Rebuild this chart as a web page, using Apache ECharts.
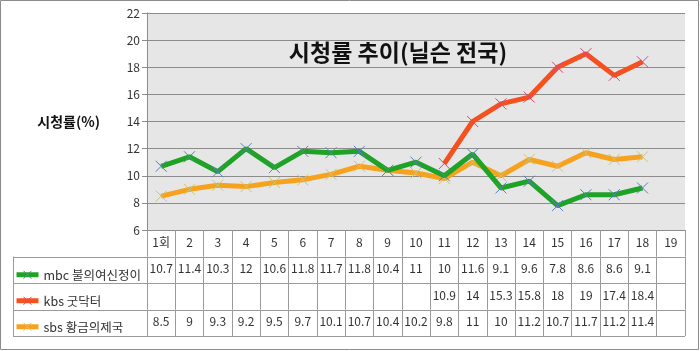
<!DOCTYPE html>
<html>
<head>
<meta charset="utf-8">
<script src="https://cdn.jsdelivr.net/npm/echarts@6/dist/echarts.min.js"></script>
<style>
  html, body { margin: 0; padding: 0; background: #fff; }
  #chart { width: 700px; height: 351px; }
</style>
</head>
<body>
<div id="chart"></div>
<script>
// 회차
var episodes = ["1회", "2", "3", "4", "5", "6", "7", "8", "9", "10",
  "11", "12", "13", "14", "15", "16", "17", "18", "19"];
var seriesNames = ["mbc 불의여신정이", "kbs 굿닥터", "sbs 황금의제국"];
var mbcData = [10.7, 11.4, 10.3, 12, 10.6, 11.8, 11.7, 11.8, 10.4, 11,
  10, 11.6, 9.1, 9.6, 7.8, 8.6, 8.6, 9.1, null];
var kbsData = [null, null, null, null, null, null, null, null, null, null,
  10.9, 14, 15.3, 15.8, 18, 19, 17.4, 18.4, null];
var sbsData = [8.5, 9, 9.3, 9.2, 9.5, 9.7, 10.1, 10.7, 10.4, 10.2,
  9.8, 11, 10, 11.2, 10.7, 11.7, 11.2, 11.4, null];
var yTicks = { min: 6, max: 22, step: 2 };

var lineColors = ["#1fa327", "#f4511e", "#f7a21e"];
var markColors = ["#5b7fb8", "#d8457a", "#c9c47a"];
var rows = [mbcData, kbsData, sbsData];

var font = "'Noto Sans CJK KR', sans-serif";
var gridL = 147, gridR = 15, gridT = 13, plotBottom = 230;
var rowH = 26.5, tableLeft = 13, tableRight = 700 - gridR;
var crossPath = "path://M0,0L10,10M0,10L10,0";

var chart = echarts.init(document.getElementById("chart"));

// x axes: header row + one axis per data row (table cells)
var xAxes = [];
for (var r = 0; r < 4; r++) {
  (function (r) {
    xAxes.push({
      type: "category",
      data: episodes,
      position: "bottom",
      offset: r * rowH,
      boundaryGap: true,
      axisLine: { show: r === 0, lineStyle: { color: "#8c8c8c", width: 1 } },
      axisTick: {
        show: true,
        interval: 0,
        alignWithLabel: false,
        length: rowH,
        lineStyle: { color: "#9a9a9a", width: 1 }
      },
      axisLabel: {
        interval: 0,
        margin: 6,
        color: "#333",
        fontFamily: font,
        fontSize: 12,
        formatter: function (v, i) {
          if (r === 0) return v;
          var val = rows[r - 1][i];
          return val == null ? "" : String(val);
        }
      },
      splitLine: { show: false }
    });
  })(r);
}

var series = rows.map(function (d, i) {
  return {
    name: seriesNames[i],
    type: "line",
    xAxisIndex: 0,
    data: d,
    symbol: crossPath,
    symbolSize: 11,
    showSymbol: true,
    connectNulls: false,
    lineStyle: { color: lineColors[i], width: 5 },
    itemStyle: { color: "transparent", borderColor: markColors[i], borderWidth: 1 },
    emphasis: { disabled: true },
    z: 3 - i
  };
});

// table borders left of the plot and row separators
var graphics = [{
  type: "rect",
  shape: { x: 0.5, y: 0.5, width: 698, height: 349 },
  style: { fill: "none", stroke: "#8c8c8c", lineWidth: 1 },
  silent: true
}];
for (var k = 1; k <= 4; k++) {
  var yy = Math.round(plotBottom + k * rowH) + 0.5;
  graphics.push({
    type: "line",
    shape: { x1: tableLeft, y1: yy, x2: tableRight, y2: yy },
    style: { stroke: "#9a9a9a", lineWidth: 1 },
    silent: true
  });
}
graphics.push({
  type: "line",
  shape: { x1: tableLeft + 0.5, y1: plotBottom + rowH, x2: tableLeft + 0.5, y2: plotBottom + 4 * rowH },
  style: { stroke: "#9a9a9a", lineWidth: 1 },
  silent: true
});

var option = {
  backgroundColor: "#fff",
  animation: false,
  title: {
    text: "시청률 추이(닐슨 전국)",
    left: 393,
    top: 36,
    textAlign: "center",
    textStyle: { fontFamily: font, fontSize: 23, fontWeight: "bold", color: "#111" }
  },
  legend: {
    orient: "vertical",
    left: tableLeft - 4,
    top: plotBottom + rowH + 7,
    itemWidth: 22,
    itemHeight: 10,
    itemGap: rowH - 10 - 3,
    data: seriesNames,
    selectedMode: false,
    lineStyle: { width: 5 },
    itemStyle: { borderWidth: 1 },
    textStyle: { fontFamily: font, fontSize: 12.5, color: "#333" }
  },
  grid: {
    left: gridL,
    right: gridR,
    top: gridT,
    bottom: 351 - plotBottom,
    show: true,
    backgroundColor: "#e6e6e6",
    borderWidth: 0,
    containLabel: false
  },
  xAxis: xAxes,
  yAxis: {
    type: "value",
    min: yTicks.min,
    max: yTicks.max,
    interval: yTicks.step,
    name: "시청률(%)",
    nameLocation: "middle",
    nameRotate: 0,
    nameGap: 47,
    nameTextStyle: { fontFamily: font, fontSize: 14, fontWeight: "bold", color: "#111", align: "right" },
    axisLine: { show: true, lineStyle: { color: "#8c8c8c" } },
    axisTick: { show: true, length: 5, lineStyle: { color: "#8c8c8c" } },
    axisLabel: { color: "#333", fontFamily: font, fontSize: 12, margin: 7 },
    splitLine: { show: true, lineStyle: { color: "#8c8c8c", width: 1 } }
  },
  graphic: graphics,
  series: series
};

chart.setOption(option);
</script>
</body>
</html>
